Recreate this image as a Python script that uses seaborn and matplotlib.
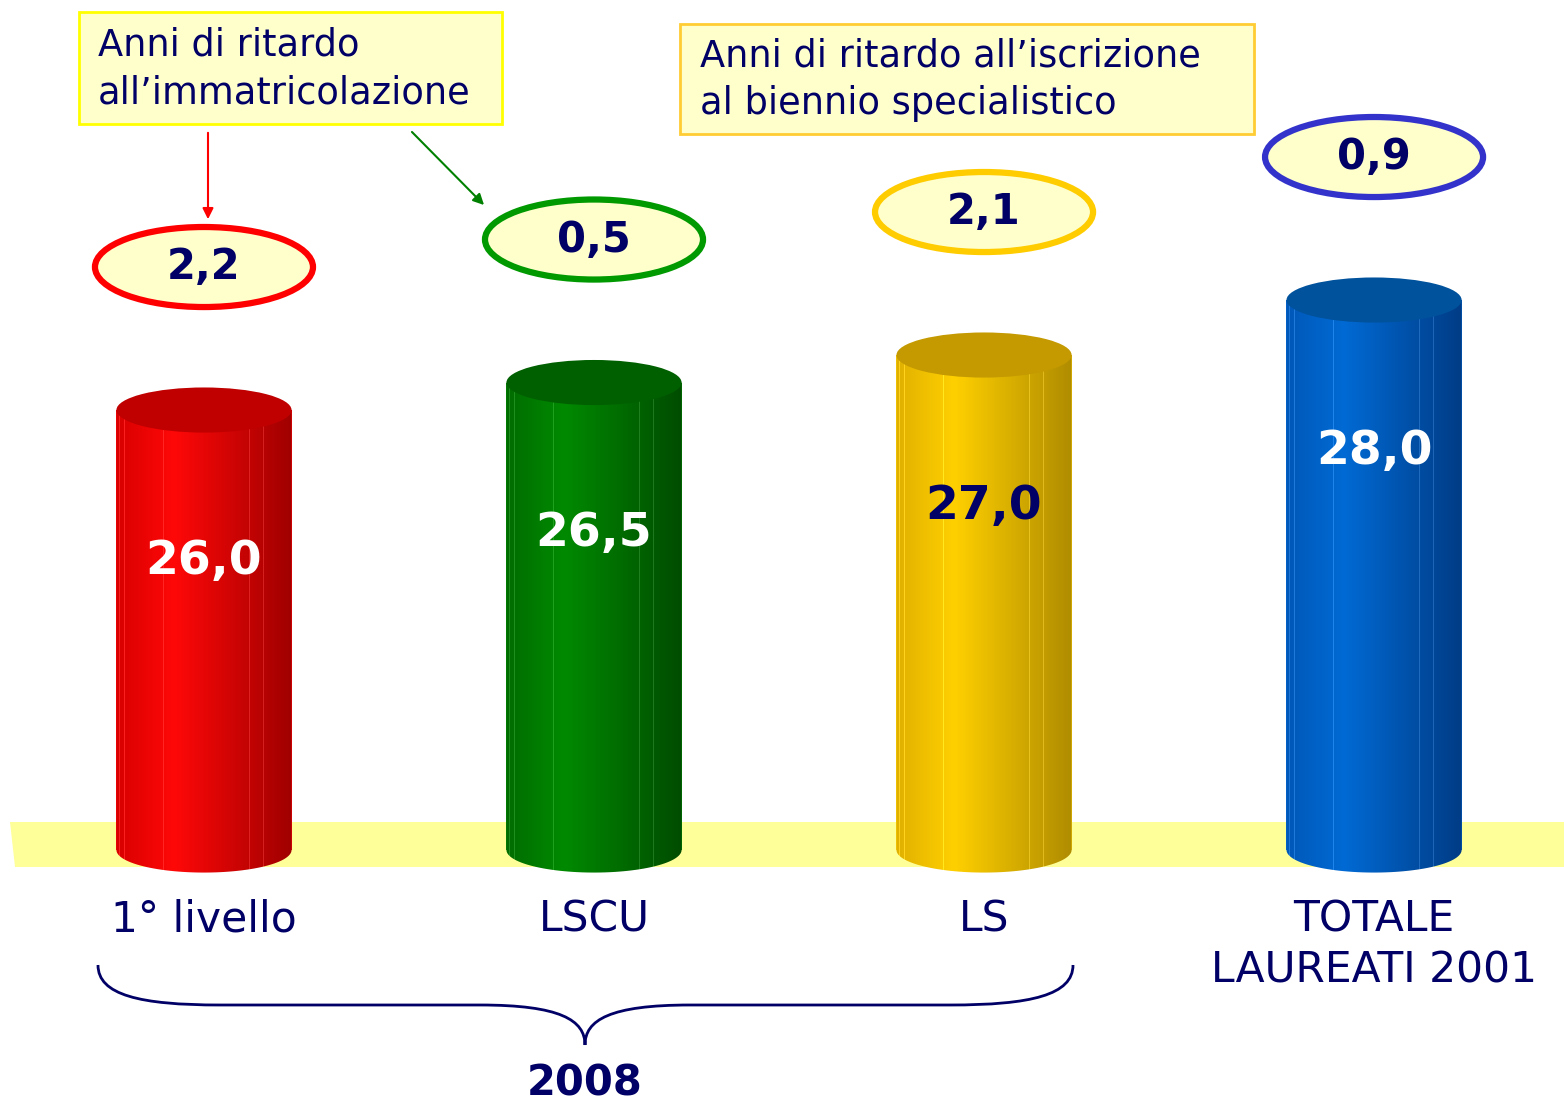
import numpy as np
import pandas as pd
import matplotlib
matplotlib.use("Agg")
import matplotlib.pyplot as plt
import seaborn as sns
from matplotlib.patches import Ellipse, Rectangle, PathPatch
from matplotlib.path import Path
from matplotlib.colors import LinearSegmentedColormap

# data
categories = ["1° livello", "LSCU", "LS", "TOTALE\nLAUREATI 2001"]
eta_laurea = [26.0, 26.5, 27.0, 28.0]       # eta' media alla laurea
anni_ritardo = [2.2, 0.5, 2.1, 0.9]         # anni di ritardo
group_label = "2008"
box_texts = ["Anni di ritardo\nall’immatricolazione",
             "Anni di ritardo all’iscrizione\nal biennio specialistico"]

NAVY = "#000066"
# (left, highlight, right) shades of each cylinder
body_cols = [("#d80000", "#ff0808", "#a00000"),
             ("#006c00", "#008a00", "#004c00"),
             ("#e0b000", "#ffd000", "#b08c00"),
             ("#0058b8", "#006ad4", "#003c86")]
top_cols = ["#c00000", "#006000", "#c49a00", "#00529c"]
ring_cols = ["#ff0000", "#009900", "#ffcc00", "#3333cc"]
value_cols = ["white", "white", NAVY, "white"]

base = 18.0  # the bars start from 18 years
df = pd.DataFrame({"cat": categories, "h": np.array(eta_laurea) - base})

sns.set_theme(style="white")
plt.rcParams["font.family"] = ["DejaVu Sans"]

fig = plt.figure(figsize=(15.64, 11.04), dpi=100)
# overlay in pixel coords (under the chart) for boxes, floor, brace
ov = fig.add_axes([0, 0, 1, 1])
ov.set_xlim(0, 1564)
ov.set_ylim(1104, 0)
ov.set_axis_off()

ax = fig.add_axes([0, 0, 1, 1])
ax.patch.set_alpha(0)

# yellow floor
ov.fill([10, 1564, 1564, 15], [822, 822, 867, 867], color="#ffff99", lw=0)

sns.barplot(data=df, x="cat", y="h", hue="cat", palette=[c[1] for c in body_cols],
            width=0.449, saturation=1, legend=False, ax=ax)

ry = 0.41
stripes = [0.02, 0.05, 0.08, 0.12, 0.16, 0.21, 0.27, 0.48, 0.76, 0.84, 0.9, 0.95, 0.98]
for i, p in enumerate(ax.patches):
    x0, w, h = p.get_x(), p.get_width(), p.get_height()
    cx = x0 + w / 2
    p.set_edgecolor("none")

    # cylinder body clipped to rectangle + bottom half ellipse
    t = np.linspace(np.pi, 2 * np.pi, 60)
    verts = [(x0, h), (x0, 0)] + list(zip(cx + w / 2 * np.cos(t), ry * np.sin(t))) + [(x0 + w, h), (x0, h)]
    clip = PathPatch(Path(verts), transform=ax.transData, fc="none", ec="none")
    cmap = LinearSegmentedColormap.from_list("c", [(0, body_cols[i][0]), (0.33, body_cols[i][1]),
                                                   (1, body_cols[i][2])])
    xs = np.linspace(0, 1, 400)
    rgb = cmap(xs)[:, :3]
    for s in stripes:
        k = int(s * 399)
        rgb[k] = np.clip(rgb[k] + 0.12, 0, 1)
    im = ax.imshow(rgb[None, :, :], extent=(x0, x0 + w, -ry, h), aspect="auto",
                   interpolation="nearest", zorder=2)
    im.set_clip_path(clip)

    ax.add_patch(Ellipse((cx, h), w, 2 * ry, fc=top_cols[i], ec="none", zorder=3))

    ax.text(cx, h - 2.75, f"{eta_laurea[i]:.1f}".replace(".", ","), ha="center", va="center",
            fontsize=34, fontweight="bold", color=value_cols[i], zorder=4)

    # delay ellipses above the cylinders
    ax.add_patch(Ellipse((cx, h + 2.6), 0.559, 1.455, fc="#ffffcc", ec=ring_cols[i], lw=4.5, zorder=4))
    ax.text(cx, h + 2.6, f"{anni_ritardo[i]:.1f}".replace(".", ","), ha="center", va="center",
            fontsize=30, fontweight="bold", color=NAVY, zorder=5)

    ax.text(cx, -0.89, categories[i], ha="center", va="top", fontsize=30.5, color=NAVY,
            linespacing=1.25)

ax.set_xlim(-0.523, 3.487)
ax.set_ylim(-4.618, 15.455)
ax.set_axis_off()

# text boxes
ov.add_patch(Rectangle((79, 12), 423, 112, fc="#ffffcc", ec="#ffff00", lw=2))
ov.text(98, 69, box_texts[0], ha="left", va="center", fontsize=26.5, color=NAVY, linespacing=1.35)
ov.add_patch(Rectangle((680, 24), 574, 110, fc="#ffffcc", ec="#ffcc33", lw=2))
ov.text(700, 80, box_texts[1], ha="left", va="center", fontsize=26.5, color=NAVY, linespacing=1.35)

# arrows
ov.annotate("", xy=(208, 222), xytext=(208, 130),
            arrowprops=dict(arrowstyle="-|>", color="red", lw=1.5, mutation_scale=16))
ov.annotate("", xy=(486, 207), xytext=(410, 130),
            arrowprops=dict(arrowstyle="-|>", color="green", lw=1.5, mutation_scale=16))

# brace under the 2008 groups
bv = [(98, 965), (98, 995), (140, 1005), (220, 1005), (480, 1005),
      (560, 1005), (585, 1020), (585, 1045),
      (585, 1020), (610, 1005), (690, 1005), (950, 1005),
      (1031, 1005), (1073, 995), (1073, 965)]
bc = [Path.MOVETO, Path.CURVE4, Path.CURVE4, Path.CURVE4, Path.LINETO,
      Path.CURVE4, Path.CURVE4, Path.CURVE4,
      Path.CURVE4, Path.CURVE4, Path.CURVE4, Path.LINETO,
      Path.CURVE4, Path.CURVE4, Path.CURVE4]
ov.add_patch(PathPatch(Path(bv, bc), fc="none", ec=NAVY, lw=2))
ov.text(585, 1083, group_label, ha="center", va="center", fontsize=30, fontweight="bold", color=NAVY)

fig.savefig("out.png", dpi=100)
